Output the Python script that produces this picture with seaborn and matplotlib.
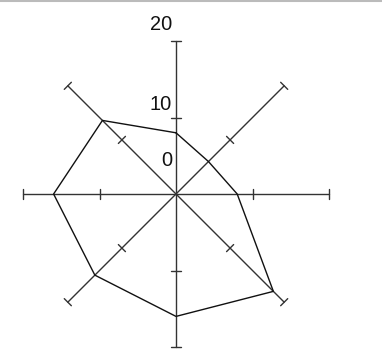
import numpy as np
import pandas as pd
import matplotlib
matplotlib.use('Agg')
import matplotlib.pyplot as plt
import seaborn as sns
from matplotlib.lines import Line2D

# datos del radar (en sentido horario desde arriba)
axes_names = ['N', 'NE', 'E', 'SE', 'S', 'SW', 'W', 'NW']
values = [8, 6, 8, 18, 16, 15, 16, 13.6]
tick_values = [10, 20]
tick_labels = ['0', '10', '20']
r_max = 20

sns.set_style('white')
plt.rcParams['font.family'] = ['Liberation Sans', 'DejaVu Sans']

W, H = 382, 361
cx, cy = 176, 194          # centro en pixeles
scale = 153 / r_max        # pixeles por unidad

fig = plt.figure(figsize=(W / 100, H / 100), dpi=100)
ax = fig.add_axes([0, 0, 1, 1])
ax.set_xlim(-cx / scale, (W - cx) / scale)
ax.set_ylim(-(H - cy) / scale, cy / scale)
ax.axis('off')

angles = np.pi / 2 - np.arange(len(axes_names)) * 2 * np.pi / len(axes_names)
line_col = '#333333'

# ejes del radar con sus marcas
half = 5 / scale
for a in angles:
    ax.plot([0, r_max * np.cos(a)], [0, r_max * np.sin(a)], color=line_col, lw=1, zorder=1)
    for t in tick_values:
        px, py = t * np.cos(a), t * np.sin(a)
        nx, ny = -np.sin(a) * half, np.cos(a) * half
        ax.plot([px - nx, px + nx], [py - ny, py + ny], color=line_col, lw=1, zorder=1)

# poligono
df = pd.DataFrame({'x': [v * np.cos(a) for v, a in zip(values, angles)],
                   'y': [v * np.sin(a) for v, a in zip(values, angles)]})
df = pd.concat([df, df.iloc[:1]], ignore_index=True)
sns.lineplot(data=df, x='x', y='y', sort=False, estimator=None, color='#111111',
             lw=1, ax=ax, zorder=2)
ax.set_xlabel('')
ax.set_ylabel('')

# etiquetas de la escala
label_pos = [33, 90, 169]
for lab, p in zip(tick_labels, label_pos):
    ax.text(-4 / scale, p / scale, lab, ha='right', va='center', fontsize=14.4, color='#111111')

# borde superior
fig.add_artist(Line2D([0, 1], [1 - 1 / H, 1 - 1 / H], transform=fig.transFigure,
                      color='#bbbbbb', lw=1.5))

fig.savefig('out.png', dpi=100)
